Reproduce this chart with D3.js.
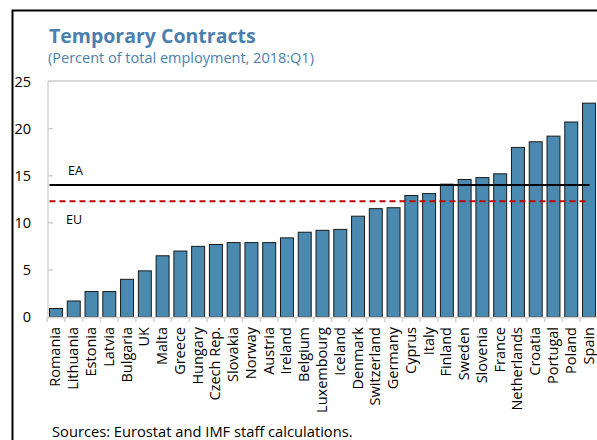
<!DOCTYPE html>
<html><head><meta charset="utf-8">
<script src="https://cdn.jsdelivr.net/npm/d3@7"></script>
<style>body{margin:0;background:#fff}svg{display:block}text{font-family:"Open Sans",sans-serif}</style>
</head><body>
<svg id="c" width="597" height="440"></svg>
<script>
const countries = ["Romania","Lithuania","Estonia","Latvia","Bulgaria","UK","Malta","Greece","Hungary","Czech Rep.","Slovakia","Norway","Austria","Ireland","Belgium","Luxembourg","Iceland","Denmark","Switzerland","Germany","Cyprus","Italy","Finland","Sweden","Slovenia","France","Netherlands","Croatia","Portugal","Poland","Spain"];
const values = [0.9,1.7,2.7,2.7,4.0,4.9,6.5,7.0,7.5,7.7,7.9,7.9,7.9,8.4,9.0,9.2,9.3,10.7,11.5,11.6,12.9,13.1,14.1,14.6,14.8,15.2,18.0,18.6,19.2,20.7,22.7];
const yTicks = [0,5,10,15,20,25];
const refLines = [{name:"EA", value:14.0}, {name:"EU", value:12.3}];

const svg = d3.select("#c");
const W = 597, H = 440;
svg.append("rect").attr("width",W).attr("height",H).attr("fill","#fff");
// outer frame
svg.append("rect").attr("x",12.5).attr("y",10.5).attr("width",W+10).attr("height",H+10)
  .attr("fill","none").attr("stroke","#000").attr("stroke-width",2);

const x = d3.scaleBand().domain(countries).range([47.1,597.9]).paddingInner(0.27).paddingOuter(0.135);
const y = d3.scaleLinear().domain([0,25]).range([317,81.5]);

// plot frame (light gray)
svg.append("line").attr("x1",48).attr("x2",W).attr("y1",81).attr("y2",81).attr("stroke","#d9d9d9").attr("stroke-width",2);
svg.append("line").attr("x1",48).attr("x2",48).attr("y1",81).attr("y2",317).attr("stroke","#d9d9d9").attr("stroke-width",1.5);

// y ticks
svg.selectAll(".yt").data(yTicks).enter().append("line")
  .attr("x1",48).attr("x2",53).attr("y1",d=>y(d)).attr("y2",d=>y(d)).attr("stroke","#d0d0d0").attr("stroke-width",1.5);
svg.selectAll(".yl").data(yTicks).enter().append("text")
  .attr("x",31).attr("y",d=>y(d)+5).attr("text-anchor","end").attr("font-size",14.5).attr("fill","#000").text(d=>d);

// bars
svg.selectAll(".bar").data(countries).enter().append("rect")
  .attr("x",d=>x(d)).attr("width",x.bandwidth())
  .attr("y",(d,i)=>y(values[i])).attr("height",(d,i)=>y(0)-y(values[i]))
  .attr("fill","#4a8ab0").attr("stroke","#1a1a1a").attr("stroke-width",1);

// x axis
svg.append("line").attr("x1",48).attr("x2",W).attr("y1",317.5).attr("y2",317.5).attr("stroke","#d0d0d0").attr("stroke-width",1.5);
const bounds = countries.map(d=>x(d)-x.step()*x.paddingInner()/2);
svg.selectAll(".xt").data(bounds).enter().append("line")
  .attr("x1",d=>d).attr("x2",d=>d).attr("y1",317).attr("y2",322).attr("stroke","#d0d0d0").attr("stroke-width",1.5);
svg.selectAll(".xl").data(countries).enter().append("text")
  .attr("transform",d=>`translate(${x(d)+x.bandwidth()/2+4.5},${327}) rotate(-90)`)
  .attr("text-anchor","end").attr("font-size",14.5).attr("fill","#000").text(d=>d);

// reference lines
const lx1 = x(countries[0]) - 1, lx2 = x(countries[countries.length-1]) + x.bandwidth() - 6;
svg.append("line").attr("x1",lx1+1).attr("x2",lx2).attr("y1",y(refLines[0].value)).attr("y2",y(refLines[0].value))
  .attr("stroke","#000").attr("stroke-width",2);
svg.append("line").attr("x1",lx1+1).attr("x2",lx2-3).attr("y1",y(refLines[1].value)).attr("y2",y(refLines[1].value))
  .attr("stroke","#c00000").attr("stroke-width",2).attr("stroke-dasharray","6,4");
svg.append("text").attr("x",68).attr("y",y(refLines[0].value)-10).attr("font-size",12.5).text(refLines[0].name);
svg.append("text").attr("x",66).attr("y",y(refLines[1].value)+23).attr("font-size",12.5).text(refLines[1].name);

// titles
svg.append("text").attr("x",49).attr("y",43).attr("font-size",19.5).attr("font-weight","bold").attr("fill","#4a7fae").text("Temporary Contracts");
svg.append("text").attr("x",48).attr("y",63).attr("font-size",14.5).attr("fill","#4a7fae").text("(Percent of total employment, 2018:Q1)");
svg.append("text").attr("x",52).attr("y",437).attr("font-size",14.7).attr("fill","#000").text("Sources: Eurostat and IMF staff calculations.");
</script>
</body></html>
